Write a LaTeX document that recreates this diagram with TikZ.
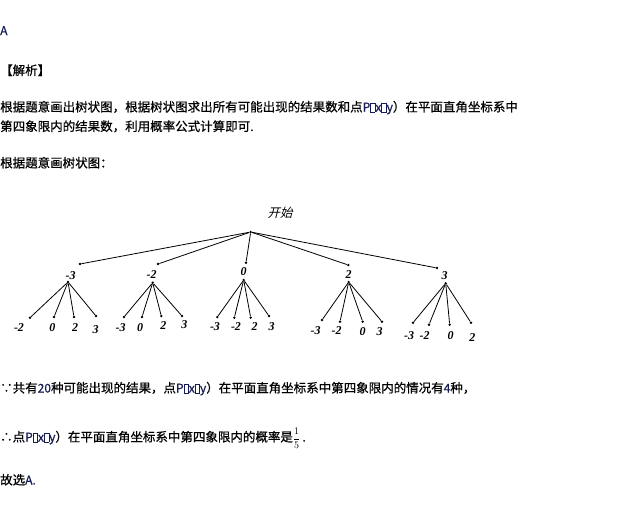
\documentclass[tikz,border=0pt]{standalone}
\usepackage{fontspec}
\setmainfont{Liberation Sans}
\newfontfamily\cjk[FakeBold=0.6]{Noto Sans CJK SC}
\newfontfamily\cjkslant[FakeSlant=0.25]{Noto Sans CJK SC}
\newfontfamily\treeserif{Liberation Serif}
\usepackage{xcolor}
\definecolor{latinblue}{RGB}{22,28,85}
\usetikzlibrary{positioning}

\newcommand{\lat}[1]{{\color{latinblue}\fontsize{12}{12}\selectfont #1}}
\newcommand{\qbx}{{\fboxsep=0pt\fboxrule=0.6pt\fbox{\rule{0pt}{8pt}\hspace{4pt}}}}
\newcommand{\Pxy}{\lat{P\qbx x\qbx y}}
\newcommand{\onefifth}{{\fontsize{10}{10}\selectfont$\displaystyle\frac{1}{5}$}}

\begin{document}
\begin{tikzpicture}[x=1pt, y=-1pt,
  txt/.style={anchor=base west, inner sep=0pt, font=\cjk\fontsize{12.5}{15}\selectfont},
  dot/.style={circle, fill=black, inner sep=0pt, minimum size=2.6pt},
  num/.style={inner sep=0pt, font=\treeserif\fontsize{12}{12}\selectfont\bfseries\itshape},
  edge/.style={line width=0.8pt}
]
\useasboundingbox (0,0) rectangle (630,515);

% text above the tree
\node[txt] (ans)  at (0,35)    {\lat{A}};
\node[txt] (head) at (0,75)    {【解析】};
\node[txt] (p1)   at (0,111.5) {根据题意画出树状图，根据树状图求出所有可能出现的结果数和点\Pxy）在平面直角坐标系中};
\node[txt] (p2)   at (0,131)   {第四象限内的结果数，利用概率公式计算即可.};
\node[txt] (p3)   at (0,167.5) {根据题意画树状图：};

% tree
\node[inner sep=0pt, font=\cjkslant\fontsize{12.4}{12.4}\selectfont] (start) at (280,213) {开始};
\node[dot] (root) at (250.7,232) {};

\foreach \i/\tx/\ty/\lx/\ly/\t/\bx/\by in {
  1/80/264/70.7/276/-3/68/282,
  2/158/264/151.7/275/-2/152.7/282.7,
  3/246/262.7/243.7/272/0/243.7/280,
  4/348.3/265/348.7/275/2/348.7/282,
  5/437/268/444.7/275.7/3/445.7/283.3}{
  \node[dot] (t\i) at (\tx,\ty) {};
  \node[num] (n\i) at (\lx,\ly) {\t};
  \node[dot] (b\i) at (\bx,\by) {};
  \draw[edge] (root) -- (t\i);
}

\foreach \g/\k/\dx/\dy/\lx/\ly/\t in {
  1/1/30/317.7/19/328/-2,     1/2/54/317/52.3/328/0,
  1/3/74/317/75/328/2,        1/4/96/316/95.7/330/3,
  2/1/124/317/120.7/328/-3,   2/2/142/317/140/327.7/0,
  2/3/161.3/316/163.3/326/2,  2/4/182/316/184.3/325/3,
  3/1/217.3/317/215/327/-3,   3/2/234.3/317.7/236/327/-2,
  3/3/250.7/317.7/254.7/327/2, 3/4/269/316/271.7/327/3,
  4/1/322/320/315.7/330.7/-3, 4/2/340/321.7/336.7/330.7/-2,
  4/3/362.7/321.7/362.7/332/0, 4/4/382/321.7/379.7/332/3,
  5/1/413/322.7/409/336/-3,   5/2/429/324.7/424.7/336/-2,
  5/3/449.7/324.7/450.7/336/0, 5/4/471/322.7/472.3/337.3/2}{
  \node[dot] (l\g\k) at (\dx,\dy) {};
  \node[num] (m\g\k) at (\lx,\ly) {\t};
  \draw[edge] (b\g) -- (l\g\k);
}

% text below the tree
\node[txt] (p4) at (0,392.5) {∵共有\lat{20}种可能出现的结果，点\Pxy）在平面直角坐标系中第四象限内的情况有\lat{4}种，};
\node[txt] (p5) at (0,441.5) {∴点\Pxy）在平面直角坐标系中第四象限内的概率是\onefifth\,.};
\node[txt] (p6) at (0,484.5) {故选\lat{A.}};
\end{tikzpicture}
\end{document}
